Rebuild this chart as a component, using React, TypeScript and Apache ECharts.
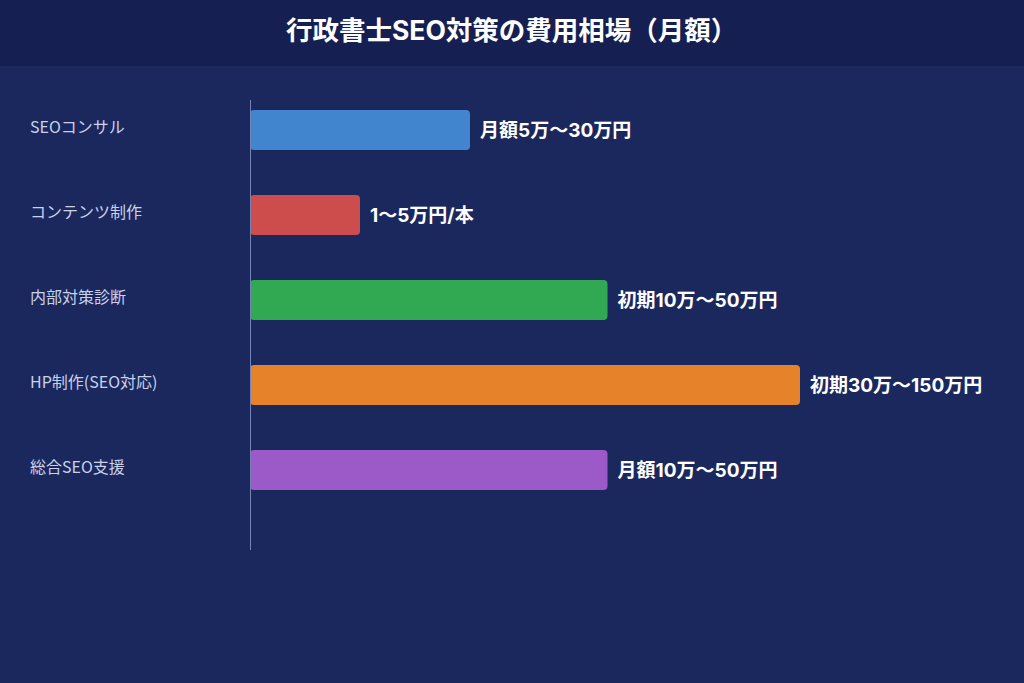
import React, { useEffect, useRef } from "react";
import * as echarts from "echarts";

const categories = ["SEOコンサル", "コンテンツ制作", "内部対策診断", "HP制作(SEO対応)", "総合SEO支援"];
const barValues = [40, 20, 65, 100, 65];
const valueLabels = ["月額5万〜30万円", "1〜5万円/本", "初期10万〜50万円", "初期30万〜150万円", "月額10万〜50万円"];
const barColors = ["#4285cf", "#cd4c4c", "#30a952", "#e6832a", "#9c59c8"];

const FONT = '"Noto Sans CJK JP", "Noto Sans", sans-serif';
const BOLD_FONT = 'Inter, "Noto Sans CJK JP", sans-serif';

const App = () => {
    const chartRef = useRef(null);

    useEffect(() => {
        if (!chartRef.current) return;
        const chart = echarts.init(chartRef.current, null, { renderer: "svg" });

        const options = {
            animation: false,
            backgroundColor: "#1b285e",
            textStyle: { fontFamily: FONT },
            graphic: [
                {
                    type: "rect",
                    left: 0,
                    top: 0,
                    shape: { width: 1024, height: 66 },
                    style: { fill: "#161f52" },
                    z: 0
                },
                {
                    type: "text",
                    left: 286,
                    top: 17,
                    style: {
                        text: "行政書士SEO対策の費用相場（月額）",
                        fill: "#ffffff",
                        font: `bold 26.5px ${BOLD_FONT}`
                    }
                },
                {
                    type: "line",
                    shape: { x1: 250.5, y1: 100, x2: 250.5, y2: 550 },
                    style: { stroke: "#7583b5", lineWidth: 1 },
                    z: 10
                }
            ],
            grid: { left: 250, right: 224, top: 87.5, height: 425 },
            xAxis: {
                type: "value",
                min: 0,
                max: 100,
                show: false
            },
            yAxis: {
                type: "category",
                inverse: true,
                data: categories,
                axisLine: { show: false },
                axisTick: { show: false },
                axisLabel: {
                    align: "left",
                    margin: 220,
                    formatter: (v) => `{a|${v}}`,
                    rich: {
                        a: {
                            color: "#c9d2ec",
                            fontSize: 16,
                            fontFamily: FONT,
                            padding: [0, 0, 8, 0]
                        }
                    }
                }
            },
            series: [
                {
                    type: "bar",
                    barWidth: 40,
                    data: barValues.map((v, i) => ({
                        value: v,
                        itemStyle: { color: barColors[i], borderRadius: 4 },
                        label: {
                            show: true,
                            position: "right",
                            distance: 10,
                            formatter: valueLabels[i],
                            color: "#ffffff",
                            fontSize: 19,
                            fontWeight: "bold",
                            fontFamily: BOLD_FONT
                        }
                    }))
                }
            ]
        };

        chart.setOption(options);
        return () => chart.dispose();
    }, []);

    return (
        <div
            ref={chartRef}
            style={{ position: "fixed", left: 0, top: 0, width: "1024px", height: "683px" }}
        />
    );
};

export default App;
